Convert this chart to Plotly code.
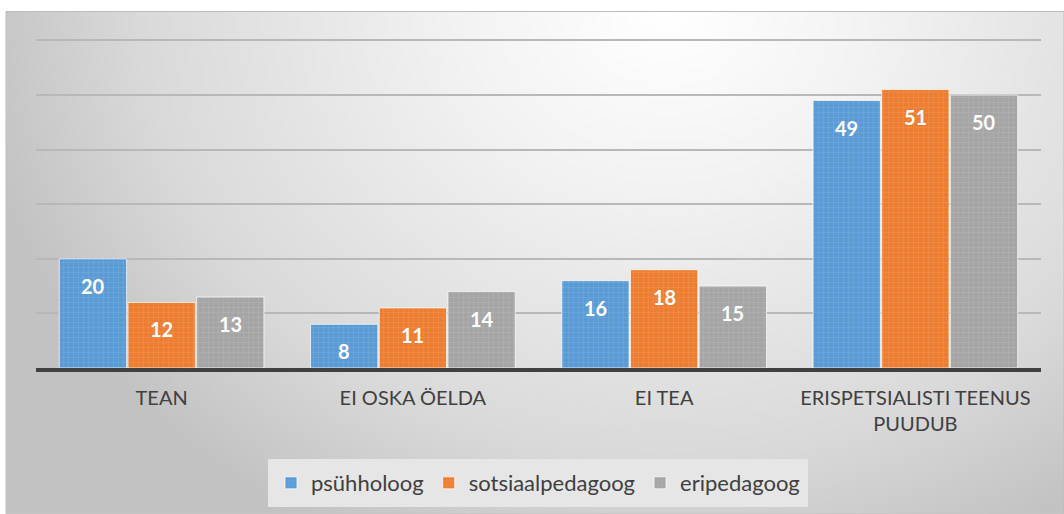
import base64
import plotly.graph_objects as go

categories = ["TEAN", "EI OSKA ÖELDA", "EI TEA", "ERISPETSIALISTI TEENUS<br>PUUDUB"]
series_names = ["psühholoog", "sotsiaalpedagoog", "eripedagoog"]
psyhholoog = [20, 8, 16, 49]
sotsiaalpedagoog = [12, 11, 18, 51]
eripedagoog = [13, 14, 15, 50]
colors = ["#5B9BD5", "#ED7D31", "#A5A5A5"]
y_ticks = [0, 10, 20, 30, 40, 50, 60]

W, H = 1064, 514
Y_MAX = 61
L, R, B = 36, 23, 146
T = (H - B) - (H - B - 40) * Y_MAX / 60
plot_w = W - L - R
plot_h = H - T - B
bargap = 0.18

def px_to_paper_x(px):
    return (px - L) / plot_w

def px_to_paper_y(py):
    return (H - B - py) / plot_h

svg = f'''<svg xmlns="http://www.w3.org/2000/svg" width="1058" height="503" viewBox="0 0 1058 503">
<defs><radialGradient id="g" gradientUnits="userSpaceOnUse" cx="660" cy="0" r="700"
 gradientTransform="translate(660 0) scale(1 0.85) translate(-660 0)">
<stop offset="0" stop-color="#ffffff"/>
<stop offset="0.3" stop-color="#f2f2f2"/>
<stop offset="0.75" stop-color="#d9d9d9"/>
<stop offset="1" stop-color="#c2c2c2"/>
</radialGradient></defs>
<rect x="0" y="0" width="1058" height="503" fill="url(#g)"/>
</svg>'''
bg_src = "data:image/svg+xml;base64," + base64.b64encode(svg.encode()).decode()

fig = go.Figure()
all_vals = [psyhholoog, sotsiaalpedagoog, eripedagoog]
for name, vals, col in zip(series_names, all_vals, colors):
    fig.add_trace(go.Bar(
        name=name, x=categories, y=vals,
        marker=dict(color=col, line=dict(color="rgba(255,255,255,0.7)", width=1),
                    pattern=dict(shape="+", fgcolor="rgba(255,255,255,1)", fgopacity=0.15,
                                 size=5, solidity=0.2)),
    ))

cat_w = plot_w / len(categories)
bar_step = cat_w * (1 - bargap) / 3
annotations = []
for i, vals in enumerate(all_vals):
    for c, v in zip(categories, vals):
        annotations.append(dict(
            x=c, y=v, xref="x", yref="y", text=str(v), showarrow=False,
            xshift=(i - 1) * bar_step, yshift=-27, yanchor="middle",
            font=dict(family="Lato", size=20, color="white", weight="bold"),
        ))

fig.update_layout(
    width=W, height=H,
    margin=dict(l=L, r=R, t=T, b=B, autoexpand=False),
    paper_bgcolor="white", plot_bgcolor="rgba(0,0,0,0)",
    barmode="group", bargap=bargap, bargroupgap=0.02,
    annotations=annotations,
    images=[dict(source=bg_src, xref="paper", yref="paper",
                 x=px_to_paper_x(6), y=px_to_paper_y(11),
                 sizex=px_to_paper_x(1064) - px_to_paper_x(6),
                 sizey=px_to_paper_y(11) - px_to_paper_y(514),
                 xanchor="left", yanchor="top", sizing="stretch", layer="below")],
    shapes=[dict(type="rect", xref="paper", yref="paper",
                 x0=px_to_paper_x(6), x1=px_to_paper_x(1064),
                 y0=px_to_paper_y(514), y1=px_to_paper_y(11),
                 line=dict(color="#bdbdbd", width=1), layer="below")],
    legend=dict(orientation="h", xref="container", yref="container",
                x=538 / W, xanchor="center",
                y=(H - 459) / H, yanchor="top",
                bgcolor="#e6e6e6", bordercolor="#e6e6e6", borderwidth=3,
                font=dict(family="Lato", size=22, color="#404040"),
                itemwidth=30, traceorder="normal"),
    showlegend=True,
    font=dict(family="Lato", color="#404040"),
)
fig.update_xaxes(showline=True, linecolor="#404040", linewidth=4,
                 tickfont=dict(family="Lato", size=20, color="#404040"),
                 ticks="", ticklabelstandoff=9, showgrid=False, automargin=False)
fig.update_yaxes(range=[0, Y_MAX], tickvals=y_ticks, showticklabels=False,
                 showgrid=True, gridcolor="#b8b8b8", gridwidth=1.5,
                 zeroline=False, showline=False, automargin=False)

fig.write_html("out.html", config={"displayModeBar": False},
               post_script="document.body.style.margin='0';document.body.style.overflow='hidden';")
